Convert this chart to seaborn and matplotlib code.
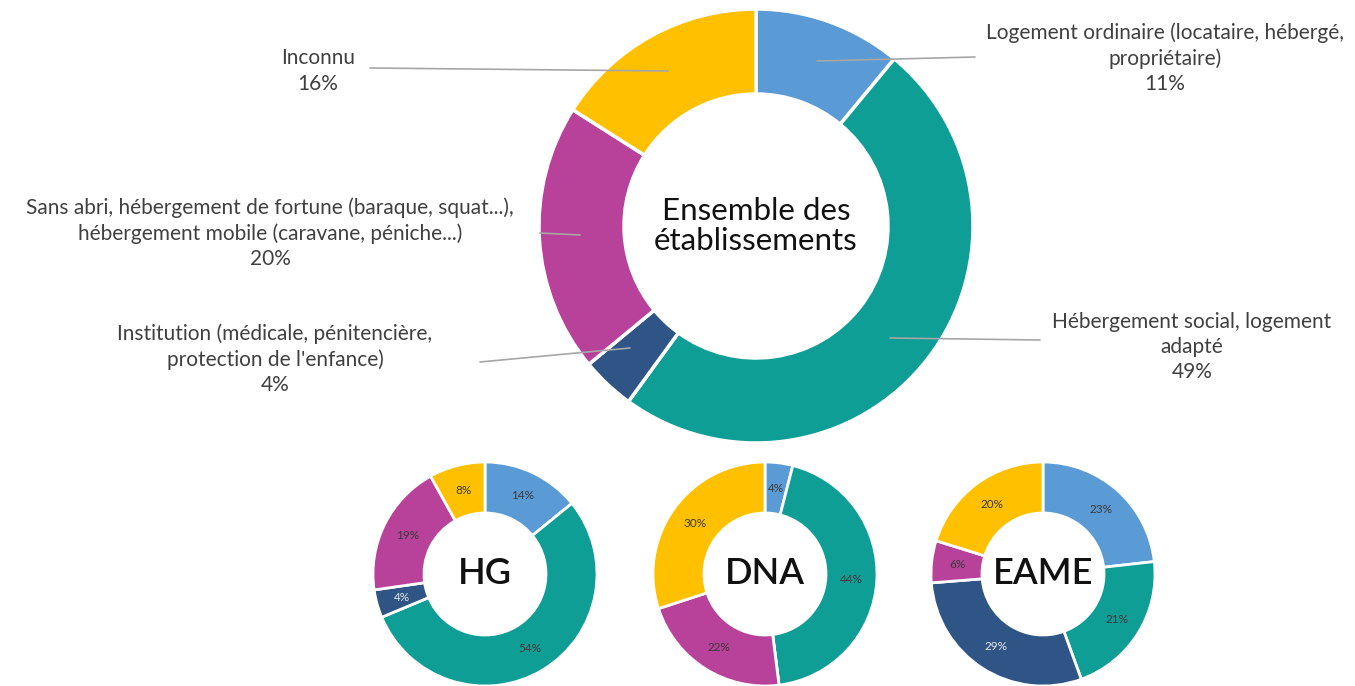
import numpy as np
import matplotlib
matplotlib.use("Agg")
import matplotlib.pyplot as plt
import seaborn as sns

sns.set_theme(style="white")
plt.rcParams['font.family'] = ['Lato', 'DejaVu Sans']

# ---- data ----
categories = [
    "Logement ordinaire (locataire, hébergé,\npropriétaire)",
    "Hébergement social, logement\nadapté",
    "Institution (médicale, pénitencière,\nprotection de l'enfance)",
    "Sans abri, hébergement de fortune (baraque, squat...),\nhébergement mobile (caravane, péniche...)",
    "Inconnu",
]
ensemble = [11, 49, 4, 20, 16]
hg = [14, 54, 4, 19, 8]
dna = [4, 44, 0, 22, 30]
eame = [23, 21, 29, 6, 20]
small_names = ["HG", "DNA", "EAME"]
colors = ["#5B9BD5", "#0E9E96", "#2E5586", "#B8419A", "#FFC000"]

W, H = 1355, 686
fig = plt.figure(figsize=(W / 100, H / 100), dpi=100)
ax = fig.add_axes([0, 0, 1, 1])

def Y(y):
    return H - y

def donut(values, cx, cy, r, width, lw=2.0):
    wedges, _ = ax.pie(values, colors=colors, startangle=90, counterclock=False,
                       center=(cx, Y(cy)), radius=r,
                       wedgeprops=dict(width=width, edgecolor="white", linewidth=lw))
    return wedges

# main donut
main_c = (756, 226)
main_r = 217
mw = donut(ensemble, main_c[0], main_c[1], main_r, 85, lw=2.5)
ax.text(main_c[0], Y(main_c[1]), "Ensemble des\nétablissements", ha="center", va="center",
        fontsize=22.5, color="#111111", linespacing=1.12)

# label anchor (x, y) and leader line start/end in pixels
label_pos = [
    (1165, 58, (817, 61), (975, 57)),
    (1192, 347, (890, 338), (1040, 340)),
    (275, 359, (630, 348), (480, 362)),
    (270, 233, (580, 235), (540, 233)),
    (318, 71, (668, 71), (370, 68)),
]
for cat, v, (lx, ly, (sx, sy), (ex, ey)) in zip(categories, ensemble, label_pos):
    ax.plot([sx, ex], [Y(sy), Y(ey)], color="#A6A6A6", lw=1.2)
    ax.text(lx, Y(ly), f"{cat}\n{v}%", ha="center", va="center", fontsize=15,
            color="#404040", linespacing=1.33)

# small donuts
small_vals = [hg, dna, eame]
small_c = [(485, 574), (765, 574), (1043, 574)]
sr = 112
for name, vals, (cx, cy) in zip(small_names, small_vals, small_c):
    ws = donut(vals, cx, cy, sr, 51, lw=2.0)
    ax.text(cx, Y(cy), name, ha="center", va="center", fontsize=26, color="#111111",
            fontweight="semibold")
    for w, v in zip(ws, vals):
        if v == 0:
            continue
        mid = np.deg2rad((w.theta1 + w.theta2) / 2)
        rr = sr - 51 / 2
        tx = cx + rr * np.cos(mid)
        ty = cy - rr * np.sin(mid)
        tc = "#E8E8E8" if w.get_facecolor()[:3] == matplotlib.colors.to_rgb("#2E5586") else "#3A3A3A"
        ax.text(tx, Y(ty), f"{v}%", ha="center", va="center", fontsize=8.5, color=tc)

ax.set_xlim(0, W)
ax.set_ylim(0, H)
ax.set_aspect("equal")
ax.axis("off")
fig.savefig("out.png", dpi=100)
